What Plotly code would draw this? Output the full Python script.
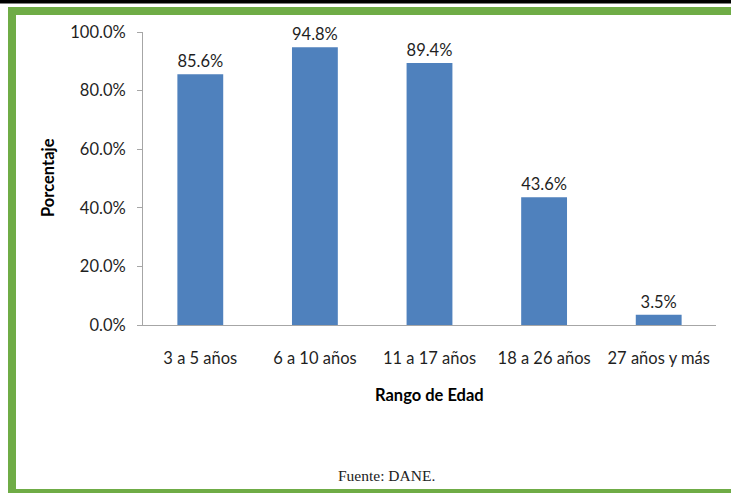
import plotly.graph_objects as go

categories = ["3 a 5 años", "6 a 10 años", "11 a 17 años", "18 a 26 años", "27 años y más"]
values = [0.856, 0.948, 0.894, 0.436, 0.035]
y_ticks = [0, 0.2, 0.4, 0.6, 0.8, 1.0]
y_tick_labels = ["0.0%", "20.0%", "40.0%", "60.0%", "80.0%", "100.0%"]

W, H = 731, 493
L, R, T, B = 143, 716, 32, 325  # plot area pixel bounds


def px(x):
    return (x - L) / (R - L)


def py(y):
    return (B - y) / (B - T)


FONT = "Lato, Carlito, Calibri, sans-serif"
TXT = "#1f1f1f"
FS = 16.5

fig = go.Figure(
    go.Bar(
        x=categories,
        y=values,
        marker=dict(color="#4f81bd", line=dict(width=0)),
        text=[f"{v*100:.1f}%" for v in values],
        textposition="outside",
        textfont=dict(family=FONT, size=FS, color=TXT),
        cliponaxis=False,
    )
)

green = "#6fac46"
shapes = [
    dict(type="rect", xref="paper", yref="paper", x0=px(0), x1=px(W), y0=py(0), y1=py(3.5),
         fillcolor="#000000", line=dict(width=0), layer="above"),
    dict(type="rect", xref="paper", yref="paper", x0=px(8), x1=px(W), y0=py(7), y1=py(15),
         fillcolor=green, line=dict(width=0), layer="above"),
    dict(type="rect", xref="paper", yref="paper", x0=px(8), x1=px(16), y0=py(7), y1=py(H),
         fillcolor=green, line=dict(width=0), layer="above"),
    dict(type="rect", xref="paper", yref="paper", x0=px(8), x1=px(W), y0=py(489), y1=py(H),
         fillcolor=green, line=dict(width=0), layer="above"),
]

annotations = [
    dict(text="<b>Porcentaje</b>", xref="paper", yref="paper", x=px(48), y=py(178),
         xanchor="center", yanchor="middle",
         showarrow=False, textangle=-90, font=dict(family=FONT, size=FS, color="#000000")),
    dict(text="<b>Rango de Edad</b>", xref="paper", yref="paper", x=px(429), y=py(395),
         xanchor="center", yanchor="middle",
         showarrow=False, font=dict(family=FONT, size=FS, color="#000000")),
    dict(text="Fuente: DANE.", xref="paper", yref="paper", x=px(386), y=py(475),
         xanchor="center", yanchor="middle",
         showarrow=False, font=dict(family="Liberation Serif, serif", size=15.5, color="#222222")),
]

fig.update_layout(
    width=W,
    height=H,
    margin=dict(l=L, r=W - R, t=T, b=H - B, pad=0),
    paper_bgcolor="white",
    plot_bgcolor="white",
    bargap=0.6,
    showlegend=False,
    shapes=shapes,
    annotations=annotations,
    xaxis=dict(
        showline=True,
        linecolor="#a6a6a6",
        linewidth=1,
        ticks="",
        showgrid=False,
        tickfont=dict(family=FONT, size=FS, color=TXT),
        ticklabelstandoff=18,
    ),
    yaxis=dict(
        range=[0, 1.0],
        tickvals=y_ticks,
        ticktext=y_tick_labels,
        showline=True,
        linecolor="#a6a6a6",
        linewidth=1,
        ticks="outside",
        ticklen=5,
        tickcolor="#a6a6a6",
        showgrid=False,
        zeroline=False,
        tickfont=dict(family=FONT, size=FS, color=TXT),
        ticklabelstandoff=8,
    ),
)

fig.write_html(
    "out.html",
    config={"displayModeBar": False},
    post_script="document.body.style.margin='0';",
)
